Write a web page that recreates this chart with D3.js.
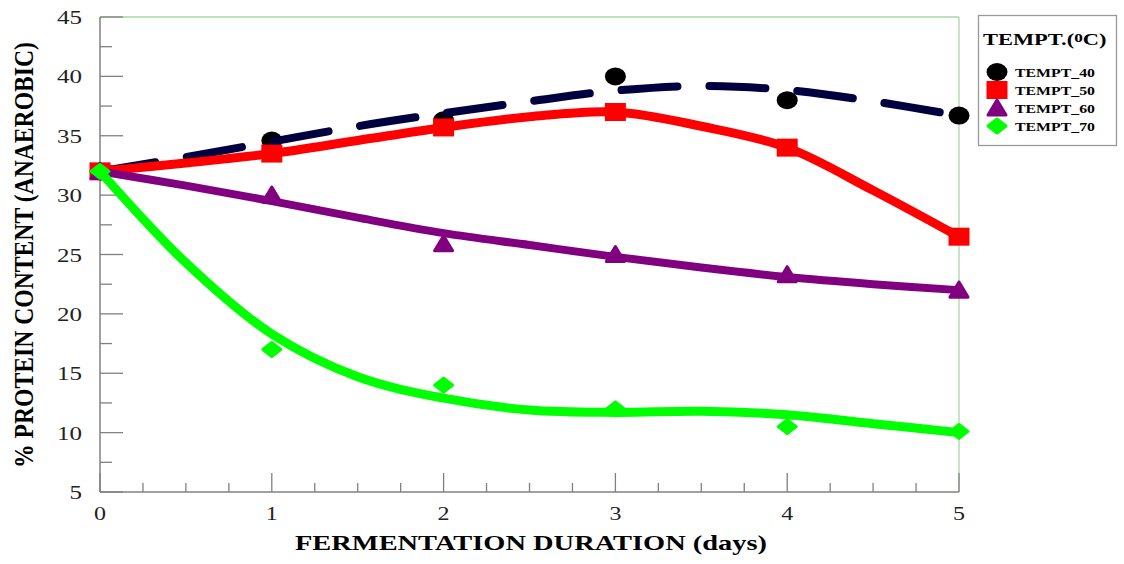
<!DOCTYPE html>
<html>
<head>
<meta charset="utf-8">
<script src="https://cdn.jsdelivr.net/npm/d3@7"></script>
<style>
  html, body { margin: 0; padding: 0; background: #fff; }
  svg { display: block; font-family: "Liberation Serif", "Times New Roman", serif; }
</style>
</head>
<body>
<div id="chart"></div>
<script>
// measured points (days vs % protein)
const days = [0, 1, 2, 3, 4, 5];
const tempt40 = [32, 34.6, 36.3, 40.0, 38.0, 36.7];
const tempt50 = [32, 33.5, 35.7, 37.0, 34.0, 26.5];
const tempt60 = [32, 30.0, 25.9, 25.0, 23.3, 22.0];
const tempt70 = [32, 17.0, 14.0, 12.0, 10.5, 10.1];

// fitted curves at half-day steps
const fitDays = [0, 0.5, 1, 1.5, 2, 2.5, 3, 3.5, 4, 4.5, 5];
const fit40 = [32, 33.2, 34.5, 35.8, 36.9, 37.9, 38.8, 39.2, 38.85, 37.9, 36.7];
const fit50 = [32, 32.7, 33.5, 34.6, 35.7, 36.6, 37.0, 35.8, 34.0, 30.4, 26.5];
const fit60 = [32, 30.8, 29.5, 28.1, 26.8, 25.8, 24.8, 23.9, 23.1, 22.5, 22.0];
const fit70 = [32, 24.3, 18.3, 14.7, 12.9, 11.9, 11.7, 11.8, 11.5, 10.75, 10.0];

const seriesNames = ['TEMPT_40', 'TEMPT_50', 'TEMPT_60', 'TEMPT_70'];
const xTicks = [0, 1, 2, 3, 4, 5];
const yTicks = [5, 10, 15, 20, 25, 30, 35, 40, 45];

const width = 1124, height = 564;
const svg = d3.select('#chart').append('svg')
  .attr('width', width)
  .attr('height', height);

const x = d3.scaleLinear().domain([0, 5]).range([100, 959]);
const y = d3.scaleLinear().domain([5, 45]).range([492, 17]);

const axisColor = '#808080';
const frameColor = '#a6d9a0';

// frame: top and right in light green
svg.append('line').attr('x1', x(0)).attr('x2', x(5)).attr('y1', y(45)).attr('y2', y(45))
  .attr('stroke', frameColor).attr('stroke-width', 1.3);
svg.append('line').attr('x1', x(5)).attr('x2', x(5)).attr('y1', y(45)).attr('y2', y(5))
  .attr('stroke', frameColor).attr('stroke-width', 1.3);

// axes lines
svg.append('line').attr('x1', x(0)).attr('x2', x(0)).attr('y1', y(45)).attr('y2', y(5))
  .attr('stroke', axisColor).attr('stroke-width', 1.5);
svg.append('line').attr('x1', x(0)).attr('x2', x(5)).attr('y1', y(5)).attr('y2', y(5))
  .attr('stroke', axisColor).attr('stroke-width', 1.5);

// y ticks (inside)
const yMinor = d3.range(7.5, 45, 5);
svg.append('g').selectAll('line').data(yTicks).join('line')
  .attr('x1', x(0)).attr('x2', x(0) + 23)
  .attr('y1', d => y(d)).attr('y2', d => y(d))
  .attr('stroke', axisColor).attr('stroke-width', 1.3);
svg.append('g').selectAll('line').data(yMinor).join('line')
  .attr('x1', x(0)).attr('x2', x(0) + 12)
  .attr('y1', d => y(d)).attr('y2', d => y(d))
  .attr('stroke', axisColor).attr('stroke-width', 1.3);

// x ticks (inside)
const xMinor = d3.range(0.25, 5, 0.25).filter(d => Math.abs(d - Math.round(d)) > 0.01);
svg.append('g').selectAll('line').data(xTicks).join('line')
  .attr('x1', d => x(d)).attr('x2', d => x(d))
  .attr('y1', y(5)).attr('y2', y(5) - 19)
  .attr('stroke', axisColor).attr('stroke-width', 1.3);
svg.append('g').selectAll('line').data(xMinor).join('line')
  .attr('x1', d => x(d)).attr('x2', d => x(d))
  .attr('y1', y(5)).attr('y2', y(5) - 9)
  .attr('stroke', axisColor).attr('stroke-width', 1.3);

// tick labels (the original is stretched sideways a bit)
svg.append('g').selectAll('text').data(yTicks).join('text')
  .attr('x', 82).attr('y', d => y(d) + 7)
  .attr('text-anchor', 'end')
  .attr('textLength', d => 12.5 * String(d).length).attr('lengthAdjust', 'spacingAndGlyphs')
  .style('font-size', '19px').attr('fill', '#222')
  .text(d => d);
svg.append('g').selectAll('text').data(xTicks).join('text')
  .attr('x', d => x(d)).attr('y', 520)
  .attr('text-anchor', 'middle')
  .attr('textLength', 12).attr('lengthAdjust', 'spacingAndGlyphs')
  .style('font-size', '19px').attr('fill', '#222')
  .text(d => d);

// axis titles
svg.append('text')
  .attr('x', 531).attr('y', 550)
  .attr('text-anchor', 'middle')
  .attr('textLength', 472).attr('lengthAdjust', 'spacingAndGlyphs')
  .style('font-size', '22px').style('font-weight', 'bold')
  .text('FERMENTATION DURATION (days)');
svg.append('text')
  .attr('transform', 'translate(33,255) scale(1.12,1) rotate(-90)')
  .attr('text-anchor', 'middle')
  .attr('textLength', 426).attr('lengthAdjust', 'spacingAndGlyphs')
  .style('font-size', '24px').style('font-weight', 'bold')
  .text('% PROTEIN CONTENT (ANAEROBIC)');

// symbol drawers
function drawSymbol(g, kind, color) {
  if (kind === 'circle') {
    g.append('ellipse').attr('rx', 10.5).attr('ry', 9).attr('fill', color);
  } else if (kind === 'square') {
    g.append('rect').attr('x', -10.5).attr('y', -9).attr('width', 21).attr('height', 18).attr('fill', color);
  } else if (kind === 'triangle') {
    g.append('path').attr('d', 'M0,-8L9,7L-9,7Z')
      .attr('fill', color).attr('stroke', color).attr('stroke-width', 3).attr('stroke-linejoin', 'round');
  } else {
    g.append('path').attr('d', 'M0,-7L9,0L0,7L-9,0Z')
      .attr('fill', color).attr('stroke', color).attr('stroke-width', 3).attr('stroke-linejoin', 'round');
  }
}

const series = [
  { name: seriesNames[0], pts: tempt40, fit: fit40, color: '#000000', lineColor: '#000040', kind: 'circle', dash: '56,32', w: 8 },
  { name: seriesNames[1], pts: tempt50, fit: fit50, color: '#ff0000', lineColor: '#ff0000', kind: 'square', dash: null, w: 9 },
  { name: seriesNames[2], pts: tempt60, fit: fit60, color: '#800080', lineColor: '#800080', kind: 'triangle', dash: null, w: 8 },
  { name: seriesNames[3], pts: tempt70, fit: fit70, color: '#00ff00', lineColor: '#00ff00', kind: 'diamond', dash: null, w: 9 }
];

const line = d3.line()
  .x((d, i) => x(fitDays[i]))
  .y(d => y(d))
  .curve(d3.curveCatmullRom.alpha(0.5));

series.forEach(s => {
  const g = svg.append('g');
  s.pts.forEach((v, i) => {
    const m = g.append('g').attr('transform', `translate(${x(days[i])},${y(v)})`);
    drawSymbol(m, s.kind, s.color);
  });
  g.append('path')
    .attr('d', line(s.fit))
    .attr('fill', 'none')
    .attr('stroke', s.lineColor)
    .attr('stroke-width', s.w)
    .attr('stroke-linecap', 'round')
    .attr('stroke-linejoin', 'round')
    .attr('stroke-dasharray', s.dash);
});

// legend
const lg = svg.append('g');
lg.append('rect').attr('x', 978.5).attr('y', 15.5).attr('width', 138).attr('height', 130)
  .attr('fill', '#fff').attr('stroke', '#999').attr('stroke-width', 1.3);
const title = lg.append('g').attr('transform', 'translate(983,45) scale(1.32,1)')
  .append('text')
  .style('font-size', '17px').style('font-weight', 'bold');
title.append('tspan').text('TEMPT.(');
title.append('tspan').attr('dy', -3).style('font-size', '13px').text('0');
title.append('tspan').attr('dy', 3).text('C)');

const legendY = [72, 90, 108, 126];
series.forEach((s, i) => {
  const m = lg.append('g').attr('transform', `translate(997,${legendY[i]})`);
  drawSymbol(m, s.kind, s.color);
  lg.append('text')
    .attr('x', 1015).attr('y', legendY[i] + 4.5)
    .attr('textLength', 80).attr('lengthAdjust', 'spacingAndGlyphs')
    .style('font-size', '13px').style('font-weight', 'bold')
    .text(s.name);
});
</script>
</body>
</html>
